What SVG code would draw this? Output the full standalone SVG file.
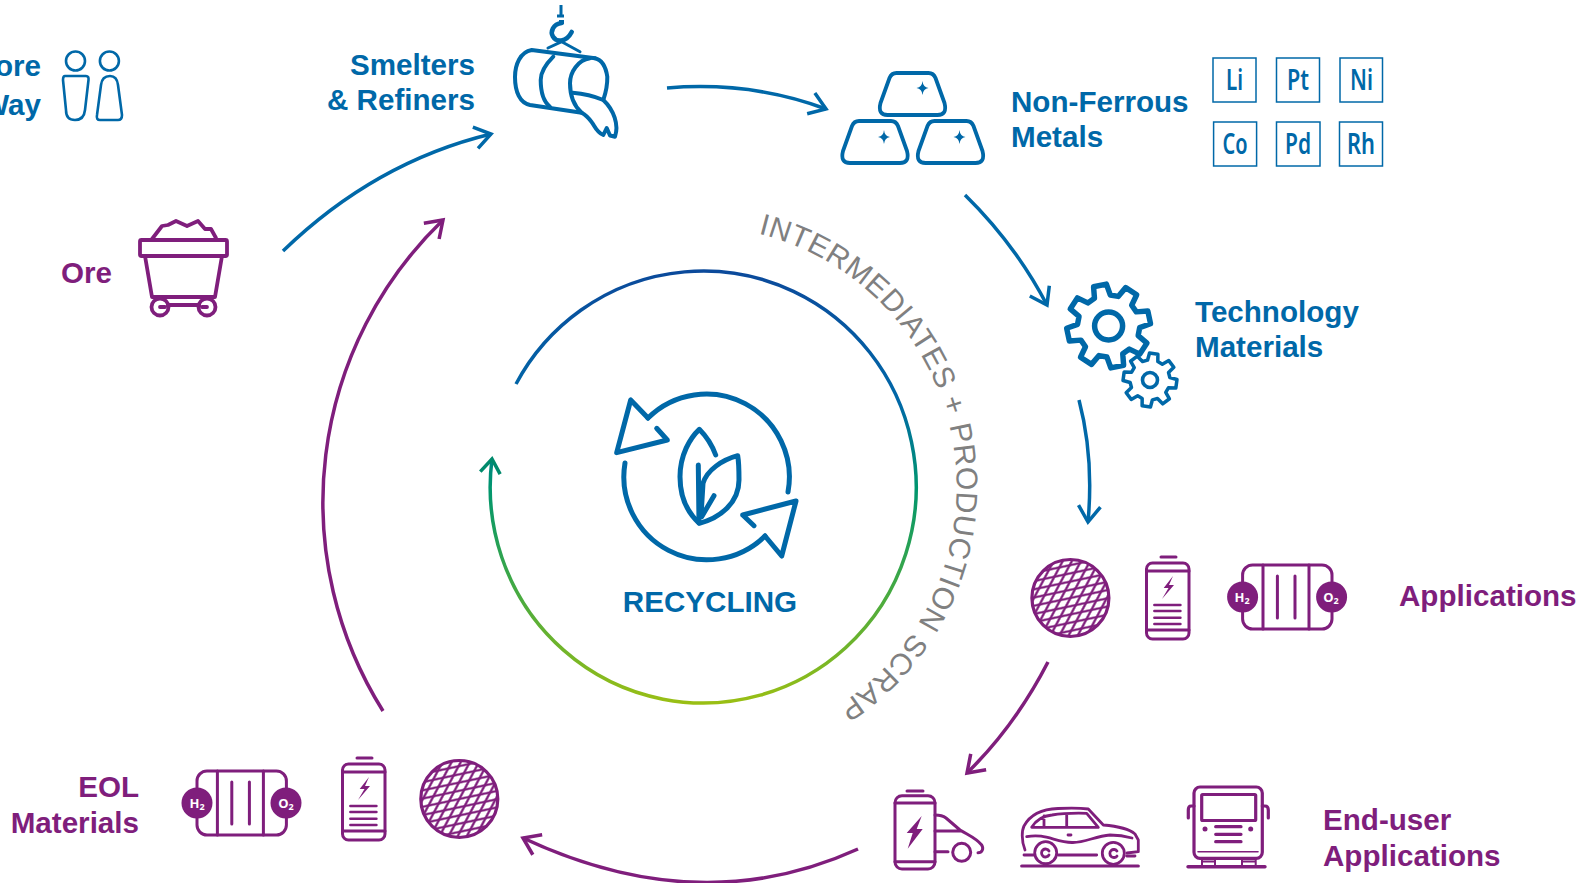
<svg xmlns="http://www.w3.org/2000/svg" xmlns:xlink="http://www.w3.org/1999/xlink" width="1591" height="883" viewBox="0 0 1591 883">
<style>
text{font-family:"Liberation Sans",Arial,sans-serif}
.lb{font-size:29.6px;font-weight:700;fill:#0068A8}
.lp{font-size:29.6px;font-weight:700;fill:#7F1E7C}
.e{text-anchor:end}
.b{fill:none;stroke:#0068A8;stroke-linecap:round;stroke-linejoin:round}
.p{fill:none;stroke:#7F1E7C;stroke-linecap:round;stroke-linejoin:round}
.fb{fill:#0068A8}
.fp{fill:#7F1E7C}
.el{font-family:"Noto Sans","Liberation Sans",sans-serif;font-size:28px;font-weight:600;fill:#0068A8}
.box{fill:#fff;stroke:#0068A8;stroke-width:1.5}
.gas{font-family:"Open Sans","Liberation Sans",sans-serif;font-size:13px;font-weight:700;fill:#fff;text-anchor:middle}
.con{fill:none;stroke-width:3.5;stroke-linecap:butt}
</style>
<defs>
<marker id="ab" markerUnits="userSpaceOnUse" markerWidth="34" markerHeight="34" refX="24" refY="14" viewBox="0 0 34 28" orient="auto" overflow="visible"><path d="M8,3 L24,14 L8,25" fill="none" stroke="#0068A8" stroke-width="3.5"/></marker>
<marker id="ap" markerUnits="userSpaceOnUse" markerWidth="34" markerHeight="34" refX="24" refY="14" viewBox="0 0 34 28" orient="auto" overflow="visible"><path d="M8,3 L24,14 L8,25" fill="none" stroke="#7F1E7C" stroke-width="3.5"/></marker>
<marker id="at" markerUnits="userSpaceOnUse" markerWidth="34" markerHeight="34" refX="24" refY="14" viewBox="0 0 34 28" orient="auto" overflow="visible"><path d="M10,4 L24,14 L10,24" fill="none" stroke="#008A6C" stroke-width="3.5"/></marker>
<linearGradient id="ring" gradientUnits="userSpaceOnUse" x1="0" y1="272" x2="0" y2="704">
<stop offset="0" stop-color="#0B4A9B"/><stop offset=".3" stop-color="#0068A8"/><stop offset=".5" stop-color="#00966E"/><stop offset=".72" stop-color="#3FA845"/><stop offset="1" stop-color="#9ABF14"/>
</linearGradient>
<pattern id="mesh" patternUnits="userSpaceOnUse" width="10.5" height="10.5" patternTransform="matrix(.978 -.208 .47 -.883 0 0)">
<rect width="10.5" height="10.5" fill="#fff"/><path d="M0,0H10.5M0,10.5H10.5M0,0V10.5M10.5,0V10.5" stroke="#7F1E7C" stroke-width="3"/>
</pattern>
<path id="ingot" d="M16,0H48Q53,0 55,5L64,30Q67,42 57,42H7Q-3,42 0,30L9,5Q11,0 16,0Z"/>
<path id="star" d="M0,-7Q.5,-1 6,0Q.5,1 0,7Q-.5,1 -6,0Q-.5,-1 0,-7Z"/>
<path id="gear" d="M71.5,-19.2L98.8,-15.6L98.8,15.6L71.5,19.2L64.1,37L80.9,58.8L58.8,80.9L37,64.1L19.2,71.5L15.6,98.8L-15.6,98.8L-19.2,71.5L-37,64.1L-58.8,80.9L-80.9,58.8L-64.1,37L-71.5,19.2L-98.8,15.6L-98.8,-15.6L-71.5,-19.2L-64.1,-37L-80.9,-58.8L-58.8,-80.9L-37,-64.1L-19.2,-71.5L-15.6,-98.8L15.6,-98.8L19.2,-71.5L37,-64.1L58.8,-80.9L80.9,-58.8L64.1,-37Z"/>
<g id="battery">
<path class="p" stroke-width="3" d="M1161,557H1176"/>
<rect class="p" stroke-width="3" x="1146.5" y="563" width="42.5" height="76" rx="6"/>
<path class="p" stroke-width="3" d="M1146.5,571H1189M1146.5,630H1189"/>
<path class="fp" d="M1173,576L1163.7,588H1168.5L1162,599L1174,585H1169Z"/>
<path class="p" stroke-width="2.6" d="M1154.4,605H1180.4M1154.4,611H1180.4M1154.4,617.7H1180.4M1154.4,624H1180.4"/>
</g>
<g id="cell">
<rect class="p" stroke-width="3" x="0" y="0" width="89.4" height="64" rx="10"/>
<path class="p" stroke-width="3" d="M20.4,0V64M66.4,0V64M34.8,11V53M52.4,11V53"/>
<circle class="fp" cx="0" cy="32" r="15.5"/><circle class="fp" cx="89" cy="32" r="15.5"/>
</g>
<g id="meshdisc"><circle cx="0" cy="0" r="38.5" fill="url(#mesh)" stroke="#7F1E7C" stroke-width="3.2"/></g>
</defs>

<g id="connectors">
<path class="con" stroke="#0068A8" marker-end="url(#ab)" d="M283,251Q375,162 491,134"/>
<path class="con" stroke="#0068A8" marker-end="url(#ab)" d="M667,88Q751,81 826,109"/>
<path class="con" stroke="#0068A8" marker-end="url(#ab)" d="M965,195Q1015,244 1047,305"/>
<path class="con" stroke="#0068A8" marker-end="url(#ab)" d="M1079,400Q1094,457 1088,522"/>
<path class="con" stroke="#7F1E7C" marker-end="url(#ap)" d="M1048,662Q1015,726 967,773"/>
<path class="con" stroke="#7F1E7C" marker-end="url(#ap)" d="M858,849Q700,921 523,838"/>
<path class="con" stroke="#7F1E7C" marker-end="url(#ap)" d="M383,711A392,392 0 0 1 443,220"/>
<path class="con" stroke="url(#ring)" marker-end="url(#at)" d="M516,384A213,216 0 1 1 492,459"/>
</g>

<g id="recycling-flow-label">
<path id="tp" d="M758.3,233.6A261,261 0 0 1 806,723.5" fill="none"/>
<text font-size="30" letter-spacing=".55" fill="#808080"><textPath href="#tp" xlink:href="#tp">INTERMEDIATES + PRODUCTION SCRAP</textPath></text>
</g>

<g id="more-way">
<text class="lb e" x="41" y="76">ore</text><text class="lb e" x="41" y="115">Way</text>
<g class="b" stroke-width="2.6">
<ellipse cx="75.5" cy="61" rx="9.5" ry="9.5"/><ellipse cx="109.4" cy="61" rx="9.5" ry="9.5"/>
<path d="M65,76H86Q89,76 88.5,80L85,110Q84,120 75,120Q66,120 66,110L63,80Q63,76 65,76Z"/>
<path d="M110,76Q117,76 118,85L122,115Q122,120 118,120H100Q96,120 97,115L101,85Q102,76 110,76Z"/>
</g>
</g>

<g id="ore">
<text class="lp" x="61" y="283">Ore</text>
<g class="p" stroke-width="3.8">
<path d="M152,239L162,226L168,225L176,221L187,226L198,221L205,229L211,229L216,238"/>
<rect x="140" y="240" width="87" height="16" rx="1.5"/>
<path d="M145,256L152,297H215L222,256"/>
<circle cx="160" cy="307" r="8.5"/><circle cx="207" cy="307" r="8.5"/>
<path d="M160,307H165M207,307H202M168,305H199"/>
</g>
</g>

<g id="smelters">
<text class="lb e" x="475" y="75">Smelters</text><text class="lb e" x="475" y="110">&amp; Refiners</text>
<g class="b" stroke-width="4">
<path stroke-width="3" stroke-linecap="butt" d="M561,5V15M557,16H564"/>
<path stroke-linecap="butt" d="M559,22H564"/>
<path stroke-width="4.6" d="M561.7,23C553,24 550,32 553,36.7C556,42 566,43 571.7,32"/>
<path stroke-width="3" d="M561.7,41.7L548,48M561.7,41.7L580,51.7"/>
<path d="M531.7,50L595,58.3M531.7,50C520,52 515,65 515,77C515,92 520,103 530,105L581.7,112.7"/>
<path d="M553.3,56.7C545,65 540.7,72 540.7,80C540.7,92 544,102 550,106.7"/>
<path d="M590,58.3C578,60 570,72 570,83.3C570,97 574,106 581.7,112.7C588,116 590,120 593,124C596,129 598,133 603.3,135L606.7,128L610,135.5L615,136.7C619,125 614,110 603.3,100C606,92 607.5,85 607.3,76.7C606,68 602,60 595,58.3"/>
<path d="M572.7,92.7C583,93.5 594,96 603.3,100"/>
</g>
</g>

<g id="non-ferrous-metals">
<text class="lb" x="1011" y="112">Non-Ferrous</text><text class="lb" x="1011" y="147">Metals</text>
<g class="b" stroke-width="3.8">
<use href="#ingot" xlink:href="#ingot" x="880.5" y="73"/><use href="#ingot" xlink:href="#ingot" x="843" y="121"/><use href="#ingot" xlink:href="#ingot" x="918.5" y="121"/>
</g>
<g class="fb"><use href="#star" xlink:href="#star" x="922.5" y="88"/><use href="#star" xlink:href="#star" x="884" y="137"/><use href="#star" xlink:href="#star" x="959.5" y="137"/></g>
<rect class="box" x="1213" y="58" width="43" height="44"/><rect class="box" x="1276.5" y="58" width="43" height="44"/><rect class="box" x="1340" y="58" width="42.5" height="44"/>
<rect class="box" x="1213.6" y="122" width="43" height="44"/><rect class="box" x="1276.5" y="122" width="43.5" height="44"/><rect class="box" x="1339.5" y="122" width="43" height="44"/>
<text class="el" x="1226" y="90" textLength="17" lengthAdjust="spacingAndGlyphs">Li</text>
<text class="el" x="1287" y="90" textLength="22" lengthAdjust="spacingAndGlyphs">Pt</text>
<text class="el" x="1350" y="90" textLength="23" lengthAdjust="spacingAndGlyphs">Ni</text>
<text class="el" x="1222.5" y="154" textLength="25" lengthAdjust="spacingAndGlyphs">Co</text>
<text class="el" x="1285" y="154" textLength="26" lengthAdjust="spacingAndGlyphs">Pd</text>
<text class="el" x="1347" y="154" textLength="28" lengthAdjust="spacingAndGlyphs">Rh</text>
</g>

<g id="technology-materials">
<text class="lb" x="1195" y="322">Technology</text><text class="lb" x="1195" y="357">Materials</text>
<g class="b">
<use href="#gear" xlink:href="#gear" transform="translate(1108.6 326) rotate(-12) scale(.42)" stroke-width="13"/>
<circle cx="1108.6" cy="326" r="14" stroke-width="5.5"/>
<use href="#gear" xlink:href="#gear" transform="translate(1150 380) rotate(8) scale(.27)" stroke-width="13" fill="#fff"/>
<circle cx="1150" cy="380" r="7.5" stroke-width="3.6"/>
</g>
</g>

<g id="applications">
<text class="lp" x="1399" y="606">Applications</text>
<use href="#meshdisc" xlink:href="#meshdisc" x="1070.4" y="598"/>
<use href="#battery" xlink:href="#battery"/>
<use href="#cell" xlink:href="#cell" x="1242.6" y="565"/>
<text class="gas" x="1242" y="602">H<tspan font-size="9" dy="2">2</tspan></text>
<text class="gas" x="1331" y="602">O<tspan font-size="9" dy="2">2</tspan></text>
</g>

<g id="end-user-applications">
<text class="lp" x="1323" y="830">End-user</text><text class="lp" x="1323" y="866">Applications</text>
<g id="ev" class="p" stroke-width="3">
<path d="M907,791H923"/>
<rect x="895" y="795.7" width="40" height="73.3" rx="7"/>
<path d="M895,803H935M895,861.7H935"/>
<path d="M935,815Q942,815 946,818L960,830C968,835 976,838 981.7,845C984,849 982,852.7 978,852.7M935,831H960M935,851.7H948"/>
<circle cx="961.7" cy="852.3" r="9"/>
<path d="M921.7,816L906.7,833H912.7L907.7,848.7L922.7,829H916.7Z" fill="#7F1E7C" stroke="none"/>
</g>
<g id="car" class="p" stroke-width="2.8">
<path stroke-width="3.2" d="M1021.7,866H1138.3"/>
<circle cx="1045.7" cy="852.7" r="11"/><circle cx="1113.3" cy="853.3" r="11"/>
<path d="M1049,851A4,4 0 1 0 1049,855M1117,851A4,4 0 1 0 1117,856"/>
<path d="M1024,855H1034M1058.3,855H1096.7M1126.7,856H1135"/>
<path d="M1025,850C1021,840 1022,830 1024,826C1030,815 1042,809 1058,808.5C1070,808 1080,808 1088.3,809L1103.3,825C1115,826 1128,828 1135,834L1138.3,840V851.7L1127,853"/>
<path d="M1026.7,836.7C1045,833 1055,842 1072,842.5C1085,843 1095,836 1110,835C1118,835 1125,836 1132,838"/>
<path d="M1031.7,827.3C1036,820 1042,816 1052,815C1064,813 1075,813 1086.7,813.3L1098.3,827.3ZM1044,816V827M1066.7,814V827M1068,835H1071"/>
</g>
<g id="bus" class="p" stroke-width="3.2">
<rect x="1194" y="787" width="68.3" height="71.3" rx="6"/>
<rect x="1201.7" y="794.5" width="54" height="26" rx="1"/>
<path d="M1194,806H1191Q1188.3,806 1188.3,810V818M1262.3,806H1265Q1268.3,806 1268.3,810V818"/>
<path d="M1215.7,826.7H1241M1215.7,834.3H1241M1215.7,841.7H1241"/>
<path stroke-width="1.6" d="M1198,851.7H1258"/>
<path stroke-width="2" d="M1202,858.3V865M1215,858.3V865M1242,858.3V865M1255.7,858.3V865M1202,861.5H1215M1242,861.5H1255.7"/>
<path stroke-width="3.4" d="M1188,866.7H1265"/>
<circle cx="1205" cy="829" r="2.5" fill="#7F1E7C" stroke="none"/><circle cx="1250.7" cy="829" r="2.5" fill="#7F1E7C" stroke="none"/>
</g>
</g>

<g id="eol-materials">
<text class="lp e" x="139" y="797">EOL</text><text class="lp e" x="139" y="833">Materials</text>
<use href="#cell" xlink:href="#cell" x="197" y="771"/>
<text class="gas" x="197" y="808">H<tspan font-size="9" dy="2">2</tspan></text>
<text class="gas" x="286" y="808">O<tspan font-size="9" dy="2">2</tspan></text>
<use href="#battery" xlink:href="#battery" x="-804" y="201"/>
<use href="#meshdisc" xlink:href="#meshdisc" x="459.3" y="799"/>
</g>

<g id="recycling">
<text class="lb" x="710" y="612" text-anchor="middle">RECYCLING</text>
<g class="b" stroke-width="5">
<path d="M648,418A83,83 0 0 1 788,492"/>
<path d="M625,463A83,83 0 0 0 765,536"/>
<path d="M648,418L630.7,400L616.7,452.7L667.3,440L656.7,428.3"/>
<path d="M765,536L781.7,556L796,501L742.7,515L754,525.7"/>
<path d="M715.7,455C712,445 706,436 699.3,429.3C690,438 680,455 680,476.7C680,497 688,513 699.3,523.3C720,518 739,503 739,480C739,472 739,463 737.7,455.7C722,460 707,470 703,483.3L701,516"/>
<path d="M698.3,465L699,523M714,495.7L701.7,516.7"/>
</g>
</g>
</svg>
